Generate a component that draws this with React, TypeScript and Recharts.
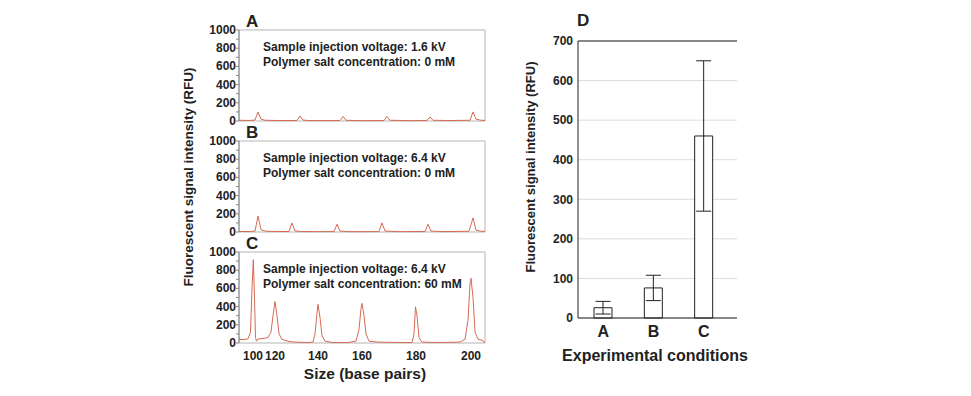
import React from 'react'
import {
    LineChart, Line, XAxis, YAxis, ReferenceArea,
    BarChart, Bar, ErrorBar, CartesianGrid, ReferenceLine
} from 'recharts'

const FONT = '"Liberation Sans", Arial, Helvetica, sans-serif'
const INK = '#222'
const TRACE = '#d66a55'

// electropherograms: [scan point, signal (RFU)]
const traceA = [
    [0, 8], [10, 6], [16, 10], [19, 100], [22, 20], [26, 8], [40, 5], [58, 6], [61, 55], [64, 10],
    [70, 5], [90, 5], [101, 5], [104, 50], [107, 8], [120, 4], [145, 5], [148, 50], [151, 8],
    [170, 4], [188, 5], [191, 45], [194, 8], [210, 5], [231, 8], [234, 100], [237, 20], [242, 8], [246, 6],
]
const traceB = [
    [0, 6], [10, 5], [16, 10], [19, 175], [22, 25], [27, 8], [40, 5], [50, 6], [53, 100], [56, 12],
    [62, 5], [80, 4], [95, 5], [98, 85], [101, 10], [110, 4], [130, 4], [140, 5], [143, 100], [146, 10],
    [160, 4], [186, 5], [189, 85], [192, 10], [205, 4], [230, 8], [234, 155], [237, 20], [242, 8], [246, 6],
]
const traceC = [
    [0, 40], [5, 38], [9, 45], [11.5, 120], [13, 600], [14.3, 915], [15.5, 500], [16.5, 60], [17.5, 20],
    [19, 45], [25, 50], [29, 60], [32, 120], [34, 300], [36, 455], [38, 300], [40, 100], [43, 40],
    [49, 20], [55, 10], [69, 5], [74, 10], [76, 100], [78, 330], [79, 425], [81, 280], [83, 80],
    [86, 20], [94, 5], [109, 5], [117, 20], [120, 150], [122, 380], [123, 435], [125, 300], [127, 100],
    [130, 20], [139, 10], [164, 5], [173, 5], [175, 100], [176.5, 398], [178, 300], [180, 60], [183, 10],
    [199, 5], [221, 10], [226, 40], [229, 250], [231, 650], [232, 712], [234, 500], [236, 120],
    [239, 40], [243, 30], [246, 5],
]

// size ladder peaks in panel C
const ladderScans = [14, 36, 79, 123, 177, 232]
const ladderSizes = [100, 120, 140, 160, 180, 200]

const rfuTicks = [0, 100, 200, 300, 400, 500, 600, 700, 800, 900, 1000]

const panelLetters = ['A', 'B', 'C']
const voltages = ['1.6 kV', '6.4 kV', '6.4 kV']
const saltConc = ['0 mM', '0 mM', '60 mM']

// panel D
const conditions = ['A', 'B', 'C']
const meanRfu = [26, 76, 460]
const sdRfu = [16, 32, 190]
const barTicks = [0, 100, 200, 300, 400, 500, 600, 700]

const PANEL_TOPS = [30, 141, 252]
const PLOT_H = 91
const PAD = 10

function RfuTick(props: any) {
    const { x, y, payload } = props
    if (payload.value % 200 !== 0) return <g />
    return (
        <text x={x} y={y} dy={4} textAnchor="end" fontSize={12} fontWeight="bold" fill={INK} fontFamily={FONT}>
            {payload.value}
        </text>
    )
}

function TracePanel({ trace, top, showX }: { trace: number[][], top: number, showX: boolean }) {
    const data = trace.map(([scan, rfu]) => ({ scan, rfu }))
    const height = PAD + PLOT_H + (showX ? 22 : PAD)
    return (
        <div style={{ position: 'absolute', left: 170, top: top - PAD }}>
            <LineChart width={330} height={height} data={data} margin={{ top: PAD, right: 15, left: 0, bottom: showX ? 0 : PAD }}>
                <XAxis
                    dataKey="scan"
                    type="number"
                    domain={[0, 246]}
                    hide={!showX}
                    height={22}
                    ticks={ladderScans}
                    interval={0}
                    tickFormatter={(v) => String(ladderSizes[ladderScans.indexOf(v)])}
                    axisLine={false}
                    tickLine={false}
                    tick={{ fill: INK, fontSize: 12, fontWeight: 'bold', fontFamily: FONT }}
                />
                <YAxis
                    domain={[0, 1000]}
                    ticks={rfuTicks}
                    interval={0}
                    width={69}
                    tickSize={3}
                    tickMargin={0}
                    axisLine={{ stroke: '#888' }}
                    tickLine={{ stroke: '#888' }}
                    tick={<RfuTick />}
                />
                <ReferenceArea x1={0} x2={246} y1={0} y2={1000} fill="none" stroke="#b5b5b5" strokeWidth={1} />
                <Line
                    type="linear"
                    dataKey="rfu"
                    stroke={TRACE}
                    strokeWidth={1}
                    dot={false}
                    isAnimationActive={false}
                />
            </LineChart>
        </div>
    )
}

function BarPanel() {
    const data = conditions.map((c, i) => ({ cond: c, mean: meanRfu[i], sd: sdRfu[i] }))
    return (
        <div style={{ position: 'absolute', left: 520, top: 30 }}>
            <BarChart width={240} height={318} data={data} margin={{ top: 11, right: 23, left: 0, bottom: 0 }}>
                <CartesianGrid vertical={false} stroke="#dcdcdc" />
                <XAxis
                    dataKey="cond"
                    height={30}
                    padding={{ left: 0, right: 8 }}
                    axisLine={{ stroke: INK }}
                    tickLine={false}
                    tick={{ fill: INK, fontSize: 16, fontWeight: 'bold', fontFamily: FONT }}
                />
                <YAxis
                    domain={[0, 700]}
                    ticks={barTicks}
                    interval={0}
                    width={58}
                    tickSize={5}
                    tickMargin={0}
                    axisLine={{ stroke: INK }}
                    tickLine={false}
                    tick={{ fill: INK, fontSize: 12, fontWeight: 'bold', fontFamily: FONT }}
                />
                <ReferenceLine y={700} stroke={INK} />
                <Bar dataKey="mean" fill="#fff" stroke={INK} strokeWidth={1} barSize={18} isAnimationActive={false}>
                    <ErrorBar dataKey="sd" width={7.5} stroke={INK} strokeWidth={1} />
                </Bar>
            </BarChart>
        </div>
    )
}

export default function App() {
    return (
        <div style={{ position: 'absolute', left: 0, top: 0, width: 971, height: 396, background: '#fff', fontFamily: FONT }}>
            <TracePanel trace={traceA} top={PANEL_TOPS[0]} showX={false} />
            <TracePanel trace={traceB} top={PANEL_TOPS[1]} showX={false} />
            <TracePanel trace={traceC} top={PANEL_TOPS[2]} showX={true} />
            <BarPanel />
            <svg width={971} height={396} style={{ position: 'absolute', left: 0, top: 0, pointerEvents: 'none' }}>
                <g fontFamily={FONT} fontWeight="bold" fill={INK}>
                    {panelLetters.map((l, i) => (
                        <g key={l}>
                            <text x={246} y={PANEL_TOPS[i] - 3} fontSize={17}>{l}</text>
                            <text x={263} y={PANEL_TOPS[i] + 20.5} fontSize={12}>Sample injection voltage: {voltages[i]}</text>
                            <text x={263} y={PANEL_TOPS[i] + 35.5} fontSize={12}>Polymer salt concentration: {saltConc[i]}</text>
                        </g>
                    ))}
                    <text x={577} y={26} fontSize={17}>D</text>
                    <text transform="translate(193,177) rotate(-90)" textAnchor="middle" fontSize={13.5}>
                        Fluorescent signal intensity (RFU)
                    </text>
                    <text transform="translate(535,167) rotate(-90)" textAnchor="middle" fontSize={13}>
                        Fluorescent signal intensity (RFU)
                    </text>
                    <text x={365} y={379} textAnchor="middle" fontSize={15.5}>Size (base pairs)</text>
                    <text x={655} y={361} textAnchor="middle" fontSize={16}>Experimental conditions</text>
                </g>
            </svg>
        </div>
    )
}
